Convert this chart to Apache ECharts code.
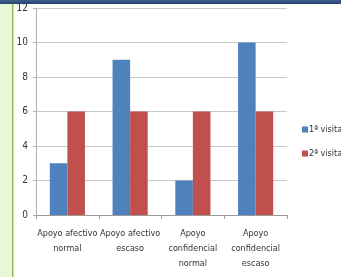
<!DOCTYPE html>
<html>
<head>
<meta charset="utf-8">
<script src="https://cdn.jsdelivr.net/npm/echarts@6/dist/echarts.min.js"></script>
<style>
  html, body { margin: 0; padding: 0; background: #fff; }
  #chart { width: 341px; height: 277px; }
</style>
</head>
<body>
<div id="chart"></div>
<script>
// chart data
const categories = [
  'Apoyo afectivo\nnormal',
  'Apoyo afectivo\nescaso',
  'Apoyo\nconfidencial\nnormal',
  'Apoyo\nconfidencial\nescaso'
]
const visita1 = [3, 9, 2, 10]
const visita2 = [6, 6, 6, 6]
const seriesNames = ['1ª visita', '2ª visita']

const font = '"Liberation Sans Narrow", "DejaVu Sans Condensed", sans-serif'
const chart = echarts.init(document.getElementById('chart'))

const option = {
  backgroundColor: '#fff',
  animation: false,
  textStyle: { fontFamily: font },
  graphic: [
    { type: 'rect', left: 0, top: 0, shape: { width: 12, height: 277 }, style: { fill: '#eaf6d8' }, z: -1 },
    { type: 'rect', left: 12, top: 0, shape: { width: 1.5, height: 277 }, style: { fill: '#8cbf4e' }, z: -1 },
    { type: 'rect', left: 0, top: 0, shape: { width: 341, height: 4 }, style: {
      fill: new echarts.graphic.LinearGradient(0, 0, 0, 1, [
        { offset: 0, color: '#3d5f8e' }, { offset: 1, color: '#27456f' }
      ]) }, z: 10 }
  ],
  legend: {
    data: seriesNames,
    orient: 'vertical',
    left: 297,
    top: 120,
    itemWidth: 6,
    itemHeight: 6,
    itemGap: 15,
    icon: 'rect',
    textStyle: { fontSize: 9, color: '#333', fontFamily: font, padding: [0, 0, 0, -4] }
  },
  grid: { left: 36, right: 54, top: 8, bottom: 62 },
  xAxis: {
    type: 'category',
    data: categories,
    axisLine: { lineStyle: { color: '#9a9a9a' } },
    axisTick: { show: true, length: 4, lineStyle: { color: '#9a9a9a' } },
    axisLabel: { fontSize: 9, color: '#333', lineHeight: 15, margin: 11, interval: 0, fontFamily: font }
  },
  yAxis: {
    type: 'value',
    min: 0,
    max: 12,
    interval: 2,
    axisLine: { show: true, lineStyle: { color: '#b0b0b0' } },
    axisTick: { show: true, length: 3, lineStyle: { color: '#b0b0b0' } },
    axisLabel: { fontSize: 10, color: '#333', margin: 8, fontFamily: font },
    splitLine: { lineStyle: { color: '#c8c8c8' } }
  },
  series: [
    {
      name: seriesNames[0],
      type: 'bar',
      data: visita1,
      barCategoryGap: '44%',
      barGap: '0%',
      itemStyle: { color: '#4f81bd' }
    },
    {
      name: seriesNames[1],
      type: 'bar',
      data: visita2,
      barCategoryGap: '44%',
      barGap: '0%',
      itemStyle: { color: '#c0504d' }
    }
  ]
}

chart.setOption(option)
</script>
</body>
</html>
